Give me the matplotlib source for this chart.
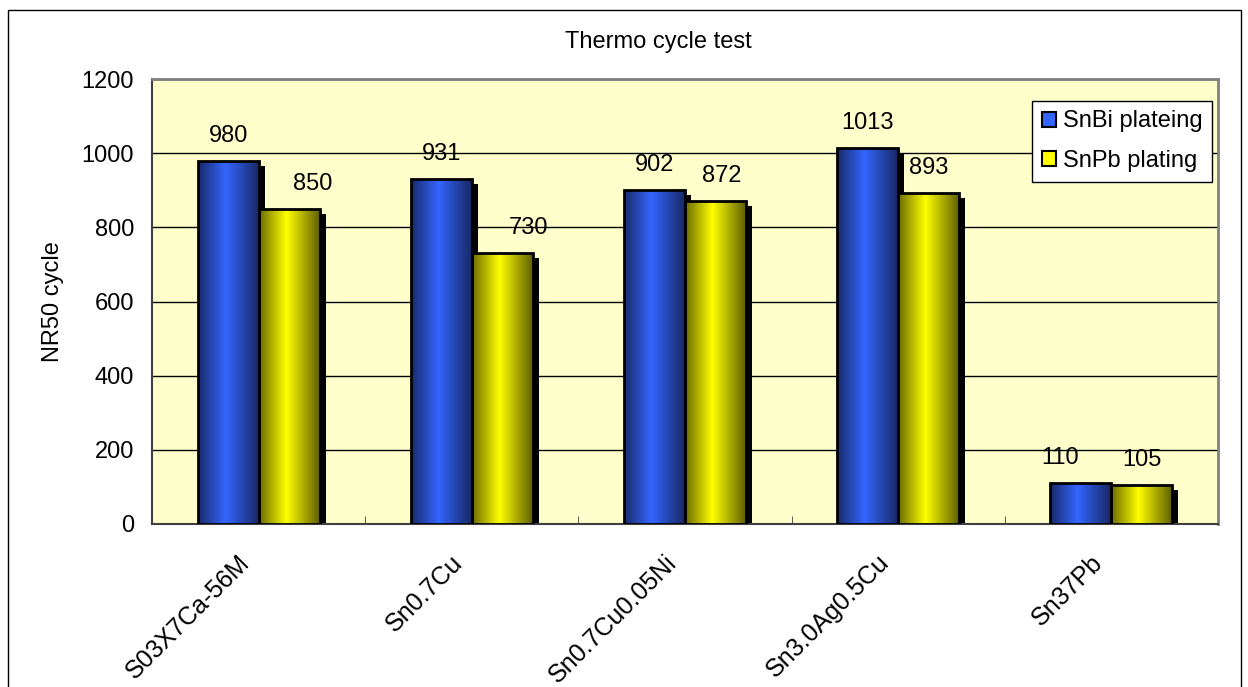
import numpy as np
import matplotlib
matplotlib.use("Agg")
import matplotlib.pyplot as plt
from matplotlib.patches import Rectangle, Patch
from matplotlib.transforms import ScaledTranslation

plt.rcParams['font.family'] = ['Liberation Sans', 'DejaVu Sans']

# data
alloys = ["S03X7Ca-56M", "Sn0.7Cu", "Sn0.7Cu0.05Ni", "Sn3.0Ag0.5Cu", "Sn37Pb"]
snbi_plating = [980, 931, 902, 1013, 110]
snpb_plating = [850, 730, 872, 893, 105]
series_names = ["SnBi plateing", "SnPb plating"]
y_ticks = [0, 200, 400, 600, 800, 1000, 1200]

# label nudges (px) where the original pushed a value label sideways
snbi_label_dx = [0, 0, 0, 0, -21]
snpb_label_dx = [24, 26, 6, 0, 0]

FS = 17
DPI = 100
fig = plt.figure(figsize=(12.48, 6.87), dpi=DPI)
ax = fig.add_axes([152 / 1248, 1 - 524 / 687, (1218 - 152) / 1248, (524 - 79) / 687])
ax.set_facecolor("#FFFFCC")

# outer chart border (bottom edge is cut off in the original)
fig.patches.append(Rectangle((8 / 1248, -0.05), (1241 - 8) / 1248, 1.05 - 10 / 687,
                             transform=fig.transFigure, fill=False, ec="black", lw=1))

x = np.arange(len(alloys))
w = 0.286


def gradient(stops_pos, stops_col):
    t = np.linspace(0, 1, 256)
    cols = np.array(stops_col) / 255.0
    img = np.stack([np.interp(t, stops_pos, cols[:, i]) for i in range(3)], axis=-1)
    return img[np.newaxis, :, :]


blue_grad = gradient([0, 0.45, 1], [(24, 42, 105), (51, 102, 255), (24, 40, 100)])
yel_grad = gradient([0, 0.45, 1], [(105, 105, 0), (255, 255, 0), (95, 95, 0)])

shadow_off = ScaledTranslation(6 / DPI, -5 / DPI, fig.dpi_scale_trans)

for vals, off, grad in [(snbi_plating, -w / 2, blue_grad), (snpb_plating, w / 2, yel_grad)]:
    bars = ax.bar(x + off, vals, width=w, facecolor="none", edgecolor="black", lw=2, zorder=4)
    for b in bars:
        bx, by = b.get_x(), b.get_y()
        bw, bh = b.get_width(), b.get_height()
        sh = Rectangle((bx, by), bw, bh, facecolor="black", edgecolor="none",
                       transform=ax.transData + shadow_off, zorder=2)
        ax.add_patch(sh)
        sh.set_clip_box(ax.bbox)
        im = ax.imshow(grad, extent=(bx, bx + bw, by, by + bh), aspect="auto",
                       interpolation="bilinear", zorder=3)
        im.set_clip_path(b)

# value labels
for vals, off, dxs in [(snbi_plating, -w / 2, snbi_label_dx), (snpb_plating, w / 2, snpb_label_dx)]:
    for xi, v, dx in zip(x, vals, dxs):
        ax.annotate(str(v), (xi + off, v), xytext=(dx * 0.72, 19 * 0.72),
                    textcoords="offset points", ha="center", va="baseline",
                    fontsize=FS, zorder=6)

ax.set_xlim(-0.5, len(alloys) - 0.5)
ax.set_ylim(0, 1200)
ax.set_yticks(y_ticks)
ax.tick_params(axis="y", length=0, pad=13, labelsize=FS)
ax.yaxis.grid(True, color="black", lw=1, zorder=1)
ax.set_axisbelow(True)

ax.set_xticks(x)
ax.set_xticklabels(alloys, rotation=45, ha="right", va="top", rotation_mode="anchor", fontsize=18)
ax.tick_params(axis="x", length=0, pad=19)
for lbl in ax.get_xticklabels():
    lbl.set_transform(lbl.get_transform() + ScaledTranslation(-21 / DPI, 0, fig.dpi_scale_trans))
ax.set_xticks(np.arange(len(alloys) + 1) - 0.5, minor=True)
ax.tick_params(axis="x", which="minor", direction="in", length=6, color="#404040")

for s in ["top", "right"]:
    ax.spines[s].set_color("#808080")
    ax.spines[s].set_linewidth(2)
for s in ["left", "bottom"]:
    ax.spines[s].set_color("#404040")
    ax.spines[s].set_linewidth(1.5)

fig.text(658 / 1248, 1 - 42 / 687, "Thermo cycle test", ha="center", va="center", fontsize=FS)
fig.text(53 / 1248, 1 - 302 / 687, "NR50 cycle", ha="center", va="center",
         rotation=90, fontsize=FS)

handles = [Patch(facecolor="#3366FF", edgecolor="black", lw=1.5),
           Patch(facecolor="#FFFF00", edgecolor="black", lw=1.5)]
leg = ax.legend(handles, series_names, loc="upper right",
                bbox_to_anchor=((1212 - 152) / 1066, (524 - 101) / 445),
                fontsize=FS, frameon=True, fancybox=False, framealpha=1,
                edgecolor="black", handlelength=0.6, handleheight=0.6,
                handletextpad=0.3, labelspacing=0.75, borderpad=0.4, borderaxespad=0)
leg.get_frame().set_linewidth(1)
leg.set_zorder(7)

fig.savefig("out.png", dpi=DPI)
